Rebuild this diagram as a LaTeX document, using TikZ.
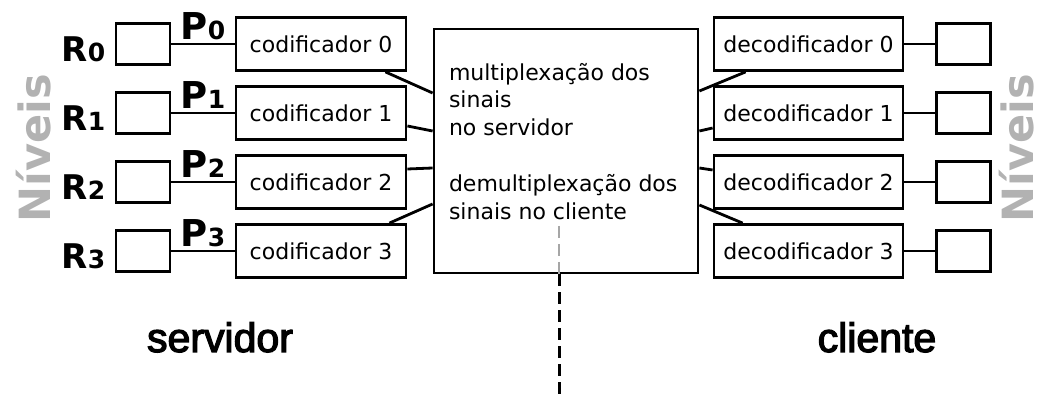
\documentclass[tikz,border=0pt]{standalone}
\usepackage{fontspec}
\setmainfont{DejaVu Sans}
\newfontfamily\ladofont[FakeBold=3]{Liberation Sans}
\usetikzlibrary{calc}
\newcommand{\rotulo}[3]{{\fontsize{#3}{#3}\selectfont\bfseries #1}{\fontsize{25}{25}\selectfont\bfseries #2}}
\colorlet{nivel}{black!30}
\colorlet{corte}{black!35}

\begin{document}
\begin{tikzpicture}[x=1pt, y=1pt, line width=2.8pt,
    caixa/.style={draw, line width=2.8pt, inner sep=0pt, font=\fontsize{22}{22}\selectfont},
    nivbox/.style={caixa, minimum width=54pt, minimum height=41pt},
    codbox/.style={caixa, minimum width=170pt, minimum height=53pt},
    decbox/.style={caixa, minimum width=189pt, minimum height=53pt},
    tracos/.style={dash pattern=on 12pt off 6pt, line width=3pt}]
  \useasboundingbox (0,0) rectangle (1042,396);
  \foreach \i in {0,...,3}{
    \pgfmathsetmacro{\y}{352-69*\i}
    \node[nivbox] (rin\i) at (143,\y) {};
    \node[codbox] (cod\i) at (321,\y) {codificador \i};
    \node[decbox] (dec\i) at (808.5,\y) {decodificador \i};
    \node[nivbox] (rout\i) at (963.5,\y) {};
    \node[anchor=base east, inner sep=0pt] (r\i) at ([shift={(-8pt,4pt)}]rin\i.south west) {\rotulo{R}{\i}{34}};
    \draw (rin\i) -- node[anchor=base, inner sep=0pt, yshift=4pt] (p\i) {\rotulo{P}{\i}{37}} (cod\i);
    \draw (dec\i) -- (rout\i);
  }
  \node[draw, line width=2.8pt, minimum width=264pt, minimum height=244pt] (mux) at (566,245) {};
  \node[anchor=north west, inner sep=0pt, align=left, font=\fontsize{22}{27.5}\selectfont] (muxtxt)
    at ($(mux.north west)+(15,-34)$) {multiplexação dos\\ sinais\\ no servidor\\[29pt]
    demultiplexação dos\\ sinais no cliente};
  % ligacoes ao multiplexador
  \draw ([xshift=-22pt]cod0.south east) -- ([yshift=58pt]mux.west);
  \draw ([yshift=-13pt]cod1.east) -- ([yshift=20pt]mux.west);
  \draw ([yshift=13pt]cod2.east) -- ([yshift=-17pt]mux.west);
  \draw ([xshift=-18pt]cod3.north east) -- ([yshift=-53pt]mux.west);
  \draw ([xshift=33pt]dec0.south west) -- ([yshift=60pt]mux.east);
  \draw ([yshift=-15pt]dec1.west) -- ([yshift=20pt]mux.east);
  \draw ([yshift=12pt]dec2.west) -- ([yshift=-17pt]mux.east);
  \draw ([xshift=30pt]dec3.north west) -- ([yshift=-54pt]mux.east);
  % corte entre servidor e cliente
  \coordinate (cutTop) at (559,170);
  \coordinate (cutBot) at (559,0);
  \draw[tracos, corte, line width=2.5pt] (cutTop) -- (cutTop |- mux.south);
  \draw[tracos] (cutTop |- mux.south) -- (cutBot);
  % niveis e lados
  \node[rotate=90, anchor=base, inner sep=0pt, text=nivel, font=\fontsize{43}{43}\selectfont\bfseries] (nivE) at (50,248) {Níveis};
  \node[rotate=90, anchor=base, inner sep=0pt, text=nivel, font=\fontsize{43}{43}\selectfont\bfseries] (nivD) at (1033,248) {Níveis};
  \node[anchor=base, inner sep=0pt, font=\ladofont\fontsize{41}{41}\selectfont] (srv) at (220,44) {servidor};
  \node[anchor=base, inner sep=0pt, font=\ladofont\fontsize{41}{41}\selectfont] (cli) at (877,44) {cliente};
\end{tikzpicture}
\end{document}
